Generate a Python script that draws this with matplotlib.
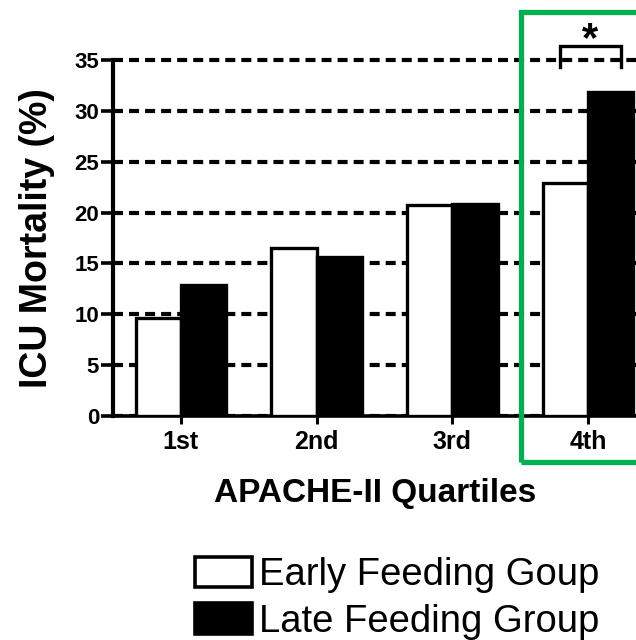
import matplotlib
matplotlib.use("Agg")
import matplotlib.pyplot as plt
from matplotlib.patches import Rectangle, Patch
import numpy as np

# APACHE-II quartiles and ICU mortality (%) per feeding group
quartiles = ["1st", "2nd", "3rd", "4th"]
early_feeding = [9.6, 16.5, 20.7, 22.9]
late_feeding = [12.9, 15.6, 20.8, 31.9]
y_ticks = [0, 5, 10, 15, 20, 25, 30, 35]
legend_labels = ["Early Feeding Goup", "Late Feeding Group"]

plt.rcParams["font.family"] = ["Liberation Sans", "DejaVu Sans"]

W, H = 636, 640
fig = plt.figure(figsize=(W / 100, H / 100), dpi=100)

# axes extend past the right edge of the canvas; a little headroom above 35
# keeps the top dashed line from being clipped
y_max = 35.4
px_per_unit = (416 - 60) / 35
ax_left, ax_right = 113, 656
ax_bottom = 416
ax_top = ax_bottom - y_max * px_per_unit
ax = fig.add_axes([ax_left / W, 1 - ax_bottom / H,
                   (ax_right - ax_left) / W, (ax_bottom - ax_top) / H])

x = np.arange(len(quartiles))
bw = 0.333
ax.bar(x - bw, early_feeding, width=bw, align="edge", color="white",
       edgecolor="black", linewidth=2.4, zorder=3)
ax.bar(x, late_feeding, width=bw, align="edge", color="black",
       edgecolor="black", linewidth=2.4, zorder=3)

ax.set_xlim(-0.5, len(quartiles) - 0.5)
ax.set_ylim(0, y_max)
ax.set_yticks(y_ticks)
ax.set_xticks(x)
ax.set_xticklabels(quartiles)

# dashed horizontal grid
ax.set_axisbelow(True)
ax.yaxis.grid(True, color="black", linewidth=3, linestyle=(0, (2.4, 1.45)))
ax.xaxis.grid(False)

for s in ["top", "right"]:
    ax.spines[s].set_visible(False)
ax.spines["left"].set_linewidth(3)
ax.spines["left"].set_bounds(0, 35)
ax.spines["bottom"].set_linewidth(2.6)

ax.tick_params(axis="y", direction="out", length=9, width=2.6,
               labelsize=16, pad=1)
ax.tick_params(axis="x", direction="out", length=6, width=2.2,
               labelsize=18, pad=4)
for lab in ax.get_xticklabels() + ax.get_yticklabels():
    lab.set_fontweight("bold")

ax.set_ylabel("ICU Mortality (%)", fontsize=27, fontweight="bold")
ax.yaxis.set_label_coords(-(113 - 55) / (ax_right - ax_left), 35 / 2 / y_max)
ax.set_xlabel("APACHE-II Quartiles", fontsize=24, fontweight="bold")
ax.xaxis.set_label_coords((375 - ax_left) / (ax_right - ax_left),
                          -(478 - ax_bottom) / (ax_bottom - ax_top))

# significance bracket over the 4th quartile
i4 = 3
bl, br = i4 - 0.21, i4 + 0.24
y_top, y_end = 36.4, 34.3
ax.plot([bl, bl, br, br], [y_end, y_top, y_top, y_end], color="black",
        linewidth=2.4, clip_on=False, zorder=5, solid_joinstyle="miter")
ax.text((bl + br) / 2, 35.0, "*", ha="center", va="bottom", fontsize=30,
        fontweight="bold", clip_on=False)

# green highlight box around the 4th quartile
fig.patches.append(Rectangle((521 / W, 1 - 462 / H), 200 / W, (462 - 12) / H,
                             transform=fig.transFigure, fill=False,
                             edgecolor="#00B050", linewidth=3.8))

handles = [Patch(facecolor="white", edgecolor="black", linewidth=2.6),
           Patch(facecolor="black", edgecolor="black", linewidth=2.6)]
fig.legend(handles, legend_labels, loc="upper left",
           bbox_to_anchor=(195 / W, 1 - 557 / H), frameon=False,
           fontsize=27.5, handlelength=1.5, handleheight=0.85,
           handletextpad=0.18, labelspacing=0.26, borderpad=0,
           borderaxespad=0)

fig.savefig("out.png", dpi=100)
